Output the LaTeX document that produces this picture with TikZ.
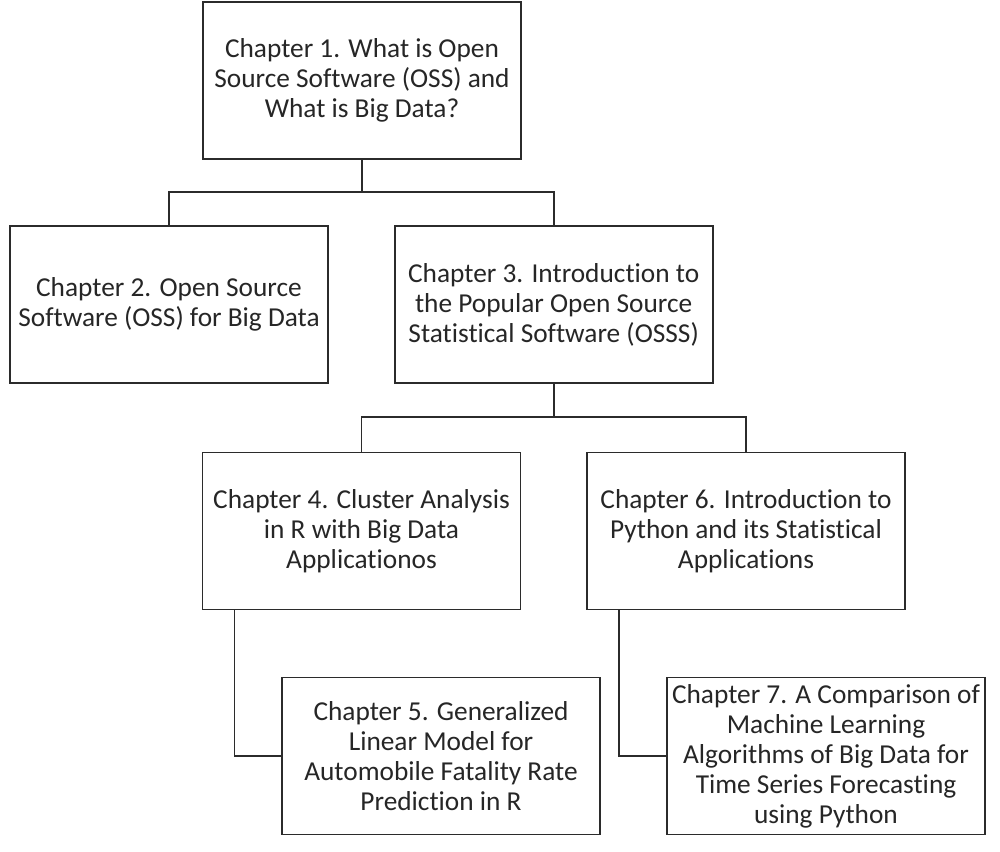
\documentclass[tikz,border=0pt]{standalone}
\usepackage{fontspec}
\setmainfont{Carlito}[Ligatures=NoCommon]
\definecolor{ink}{HTML}{262626}
\definecolor{edge}{HTML}{2B2B2B}
\begin{document}
\begin{tikzpicture}[x=0.75pt,y=-0.75pt,
  chap/.style={draw=edge, line width=1.2pt, fill=white, minimum width=318*0.75pt, minimum height=157*0.75pt,
    inner sep=0pt, align=center, text=ink, font=\fontsize{20.5}{22.5}\selectfont},
  link/.style={draw=edge, line width=1.2pt}]
\useasboundingbox (0,0) rectangle (1000,852);
\node[chap] (c1) at (362,80.5) {Chapter 1. What is Open\\Source Software (OSS) and\\What is Big Data?};
\node[chap] (c2) at (169,304.5) {Chapter 2. Open Source\\Software (OSS) for Big Data};
\node[chap] (c3) at (553.7,304.5) {Chapter 3. Introduction to\\the Popular Open Source\\Statistical Software (OSSS)};
\node[chap] (c4) at (361.5,531) {Chapter 4. Cluster Analysis\\in R with Big Data\\Applicationos};
\node[chap] (c6) at (746,531) {Chapter 6. Introduction to\\Python and its Statistical\\Applications};
\node[chap] (c5) at (441,756) {Chapter 5. Generalized\\Linear Model for\\Automobile Fatality Rate\\Prediction in R};
\node[chap] (c7) at (826,756) {Chapter 7. A Comparison of\\Machine Learning\\Algorithms of Big Data for\\Time Series Forecasting\\using Python};
\coordinate (j1) at (362,192);
\coordinate (j3) at (553.7,417);
\draw[link] (c1.south) -- (j1);
\draw[link] (c2.north) |- (j1) -| (c3.north);
\draw[link] (c3.south) -- (j3);
\draw[link] (c4.north) |- (j3) -| (c6.north);
\draw[link] ([xshift=-127*0.75pt]c4.south) |- (c5.west);
\draw[link] ([xshift=-127*0.75pt]c6.south) |- (c7.west);
\end{tikzpicture}
\end{document}
